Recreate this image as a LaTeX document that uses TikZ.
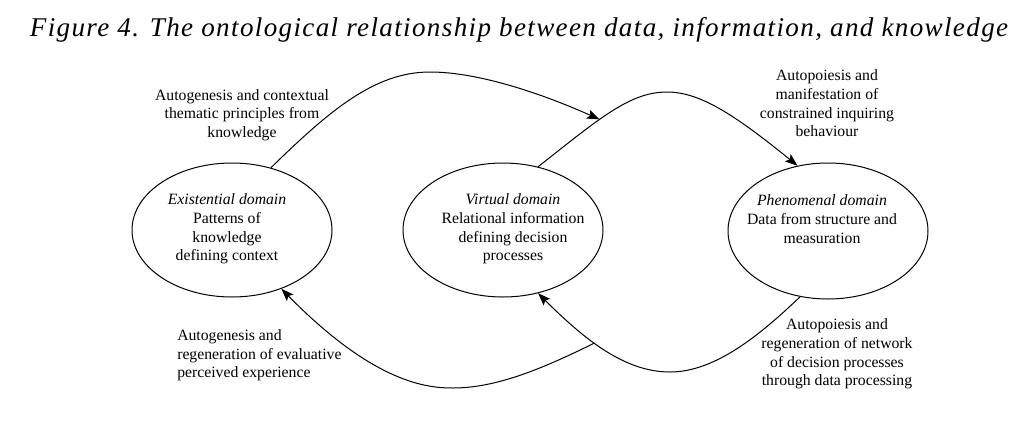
\documentclass[tikz,border=0pt]{standalone}
\usepackage{fontspec}
\setmainfont{Liberation Serif}
\newfontfamily\titlefont[LetterSpace=5]{Liberation Serif}
\usetikzlibrary{shapes.geometric,arrows.meta}
\begin{document}
\begin{tikzpicture}[x=0.75pt,y=-0.75pt,
  dom/.style={draw, ellipse, line width=0.75pt, inner sep=0pt, minimum width=150pt, minimum height=100.5pt},
  lbl/.style={inner sep=0pt, align=center, font=\fontsize{11.8}{14}\selectfont},
  flow/.style={line width=0.75pt, -{Stealth[length=9.5pt,width=7pt,inset=2pt]}},
  plain/.style={line width=0.75pt}]
\useasboundingbox (0,0) rectangle (1029,444);
\node[anchor=base, inner sep=0pt] (title) at (519,36) {\titlefont\itshape\fontsize{20.3}{24}\selectfont Figure 4. The ontological relationship between data, information, and knowledge};

\node[dom] (E) at (232,230) {};
\node[dom] (V) at (503,230) {};
\node[dom, minimum height=102pt] (P) at (828,231) {};

\node[lbl] (Et) at (227,229) {\textit{Existential domain}\\Patterns of\\knowledge\\defining context};
\node[lbl] (Vt) at (513,229) {\textit{Virtual domain}\\Relational information\\defining decision\\processes};
\node[lbl] (Pt) at (822,219) {\textit{Phenomenal domain}\\Data from structure and\\measuration};

\node[lbl] (L1) at (242,115) {Autogenesis and contextual\\thematic principles from\\knowledge};
\node[lbl] (L2) at (827,103.5) {Autopoiesis and\\manifestation of\\constrained inquiring\\behaviour};
\node[lbl] (L3) at (837,354) {Autopoiesis and\\regeneration of network\\of decision processes\\through data processing};
\node[lbl, align=left, anchor=west] (L4) at (177,355.5) {Autogenesis and\\regeneration of evaluative\\perceived experience};

% curve 2: virtual -> phenomenal (top)
\draw[flow] (V.61) .. controls (600,118) and (630,92) .. coordinate[pos=0.4] (m1) (667,92)
  .. controls (700,92) and (735,115) .. (P.115);
% curve 1: existential -> curve 2
\draw[flow] (E.58) .. controls (330,110) and (375,72) .. (430,72)
  .. controls (480,72) and (545,95) .. (m1);
% curve 3: phenomenal -> virtual (bottom)
\draw[flow] (P.247) .. controls (760,335) and (715,372) .. (670,372)
  .. controls (625,372) and (585,340) .. coordinate[pos=0.58] (m2) (V.299);
% curve 4: curve 3 -> existential
\draw[flow] (m2) .. controls (540,370) and (495,388) .. (453,388)
  .. controls (428,388) and (375,384) .. (E.310);
\end{tikzpicture}
\end{document}
